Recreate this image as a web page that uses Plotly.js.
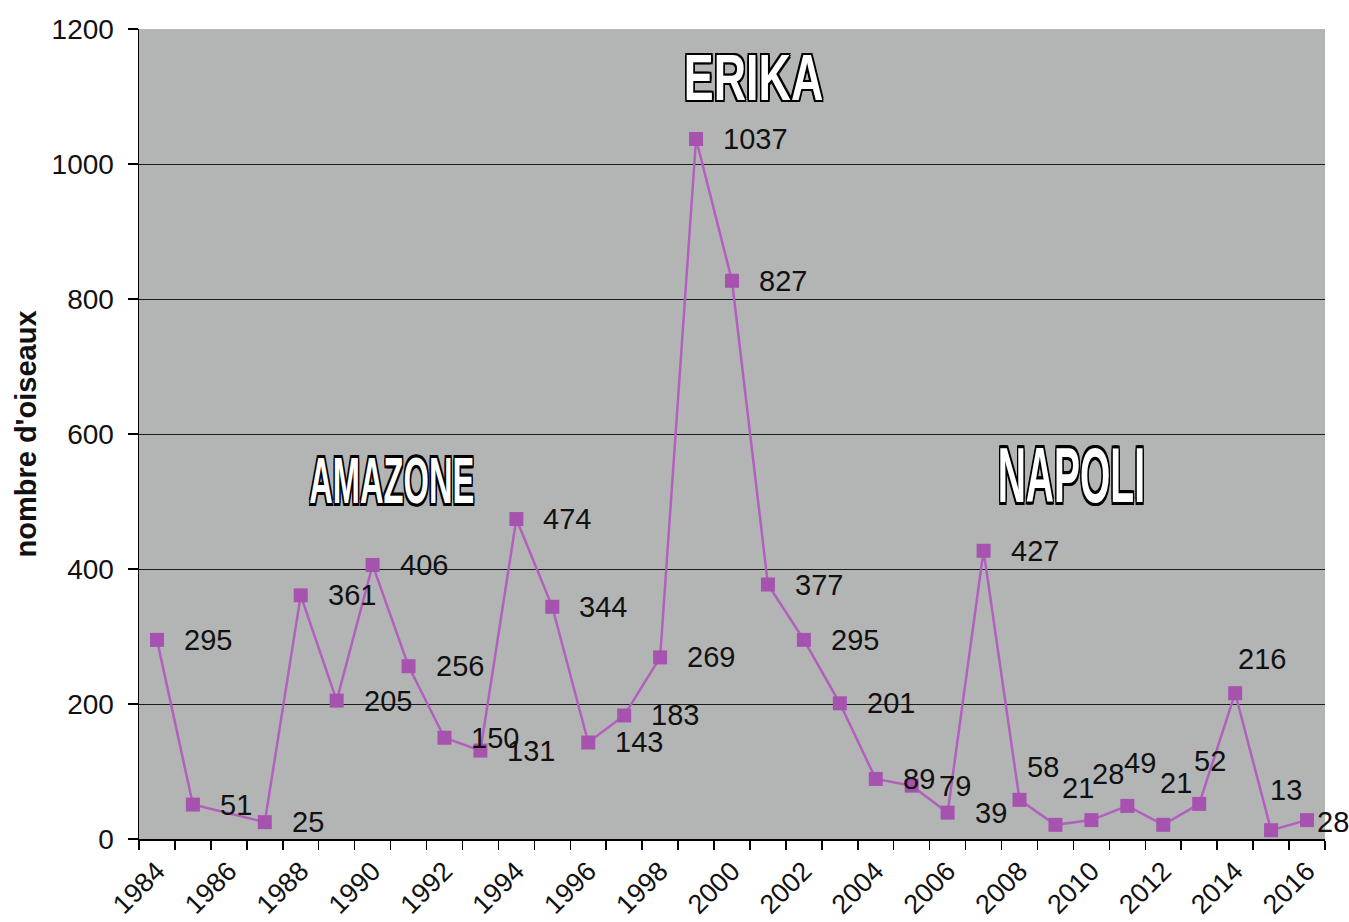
<!DOCTYPE html>
<html>
<head>
<meta charset="utf-8">
<script src="https://cdn.plot.ly/plotly-3.0.1.min.js"></script>
<style>html,body{margin:0;padding:0;background:#fff;}#chart{width:1349px;height:922px;}</style>
</head>
<body>
<div id="chart"></div>
<script>
// Years with observations (1986 has no value)
const years = [1984,1985,1987,1988,1989,1990,1991,1992,1993,1994,1995,1996,1997,1998,1999,2000,2001,2002,2003,2004,2005,2006,2007,2008,2009,2010,2011,2012,2013,2014,2015,2016];
const birds = [295,51,25,361,205,406,256,150,131,474,344,143,183,269,1037,827,377,295,201,89,79,39,427,58,21,28,49,21,52,216,13,28];
const tickYears = [1984,1986,1988,1990,1992,1994,1996,1998,2000,2002,2004,2006,2008,2010,2012,2014,2016];
const events = ['ERIKA','AMAZONE','NAPOLI'];
const eventYears = [2000.6, 1990.55, 2009.45];
const eventLevels = [1127, 530, 540];

// label placement (pixel shifts): default to the right of the point
const defaultShift = [25, 0];
const labelShift = {2008:[5,33], 2009:[5,37], 2010:[-1,46], 2011:[-5,43], 2012:[-5,42], 2013:[-7,43], 2014:[1,34], 2015:[-3,40], 2016:[8,-2]};
// event title styling
const eventSize = [64, 64, 78];
const eventScaleX = [0.70, 0.51, 0.50];

const font = 'Liberation Sans, Arial, sans-serif';
const annotations = [];
years.forEach((yr, i) => {
  const s = labelShift[yr] || defaultShift;
  annotations.push({x: yr, y: birds[i], text: String(birds[i]), showarrow: false,
    xanchor: 'left', yanchor: 'middle', xshift: s[0], yshift: s[1],
    font: {family: font, size: 29, color: '#111'}});
});
const outline = '2px 2px 0 #000, -2px -2px 0 #000, 2px -2px 0 #000, -2px 2px 0 #000, 0 2px 0 #000, 0 -2px 0 #000, 2px 0 0 #000, -2px 0 0 #000';
events.forEach((ev, i) => {
  annotations.push({x: eventYears[i], y: eventLevels[i], text: '<b>' + ev + '</b>', showarrow: false,
    xanchor: 'center', yanchor: 'middle',
    font: {family: font, size: eventSize[i], color: '#fff', shadow: outline}});
});

const trace = {
  x: years, y: birds, type: 'scatter', mode: 'lines+markers',
  line: {color: '#B260BD', width: 2.5},
  marker: {symbol: 'square', size: 14, color: '#A653B0'},
  hoverinfo: 'x+y'
};

const layout = {
  width: 1349, height: 922,
  margin: {l: 139, r: 24, t: 29, b: 83},
  paper_bgcolor: '#fff', plot_bgcolor: '#b3b5b5',
  showlegend: false,
  font: {family: font, color: '#111'},
  xaxis: {
    range: [1983.5, 2016.5], tickmode: 'array', tickvals: tickYears, ticktext: tickYears.map(String),
    tickangle: -45, ticks: '', showgrid: false, zeroline: false, ticklabelstandoff: 4,
    showline: true, linecolor: '#000', linewidth: 1.5,
    tickfont: {family: font, size: 27, color: '#111'},
    minor: {tick0: 1983.5, dtick: 1, ticks: 'outside', ticklen: 9, tickcolor: '#000', tickwidth: 1.5, showgrid: false},
    automargin: false, fixedrange: true
  },
  yaxis: {
    range: [0, 1200], dtick: 200, tick0: 0, ticks: 'outside', ticklen: 10, tickcolor: '#000', tickwidth: 1.5,
    showgrid: true, gridcolor: '#1c1c1c', gridwidth: 1, zeroline: false, ticklabelstandoff: 8,
    showline: true, linecolor: '#000', linewidth: 1.5,
    tickfont: {family: font, size: 28, color: '#111'},
    title: {text: "<b>nombre d'oiseaux</b>", font: {family: font, size: 29, color: '#111'}, standoff: 6},
    automargin: false, fixedrange: true
  },
  annotations: annotations
};

Plotly.newPlot('chart', [trace], layout, {displayModeBar: false, staticPlot: true}).then(() => {
  // condense the event titles horizontally (narrow poster-like lettering)
  document.querySelectorAll('#chart text.annotation-text').forEach(el => {
    const idx = events.indexOf(el.textContent);
    if (idx < 0) return;
    const bb = el.getBBox();
    const cx = bb.x + bb.width / 2;
    const existing = el.getAttribute('transform') || '';
    el.setAttribute('transform', existing + ' translate(' + cx + ' 0) scale(' + eventScaleX[idx] + ' 1) translate(' + (-cx) + ' 0)');
  });
});
</script>
</body>
</html>
